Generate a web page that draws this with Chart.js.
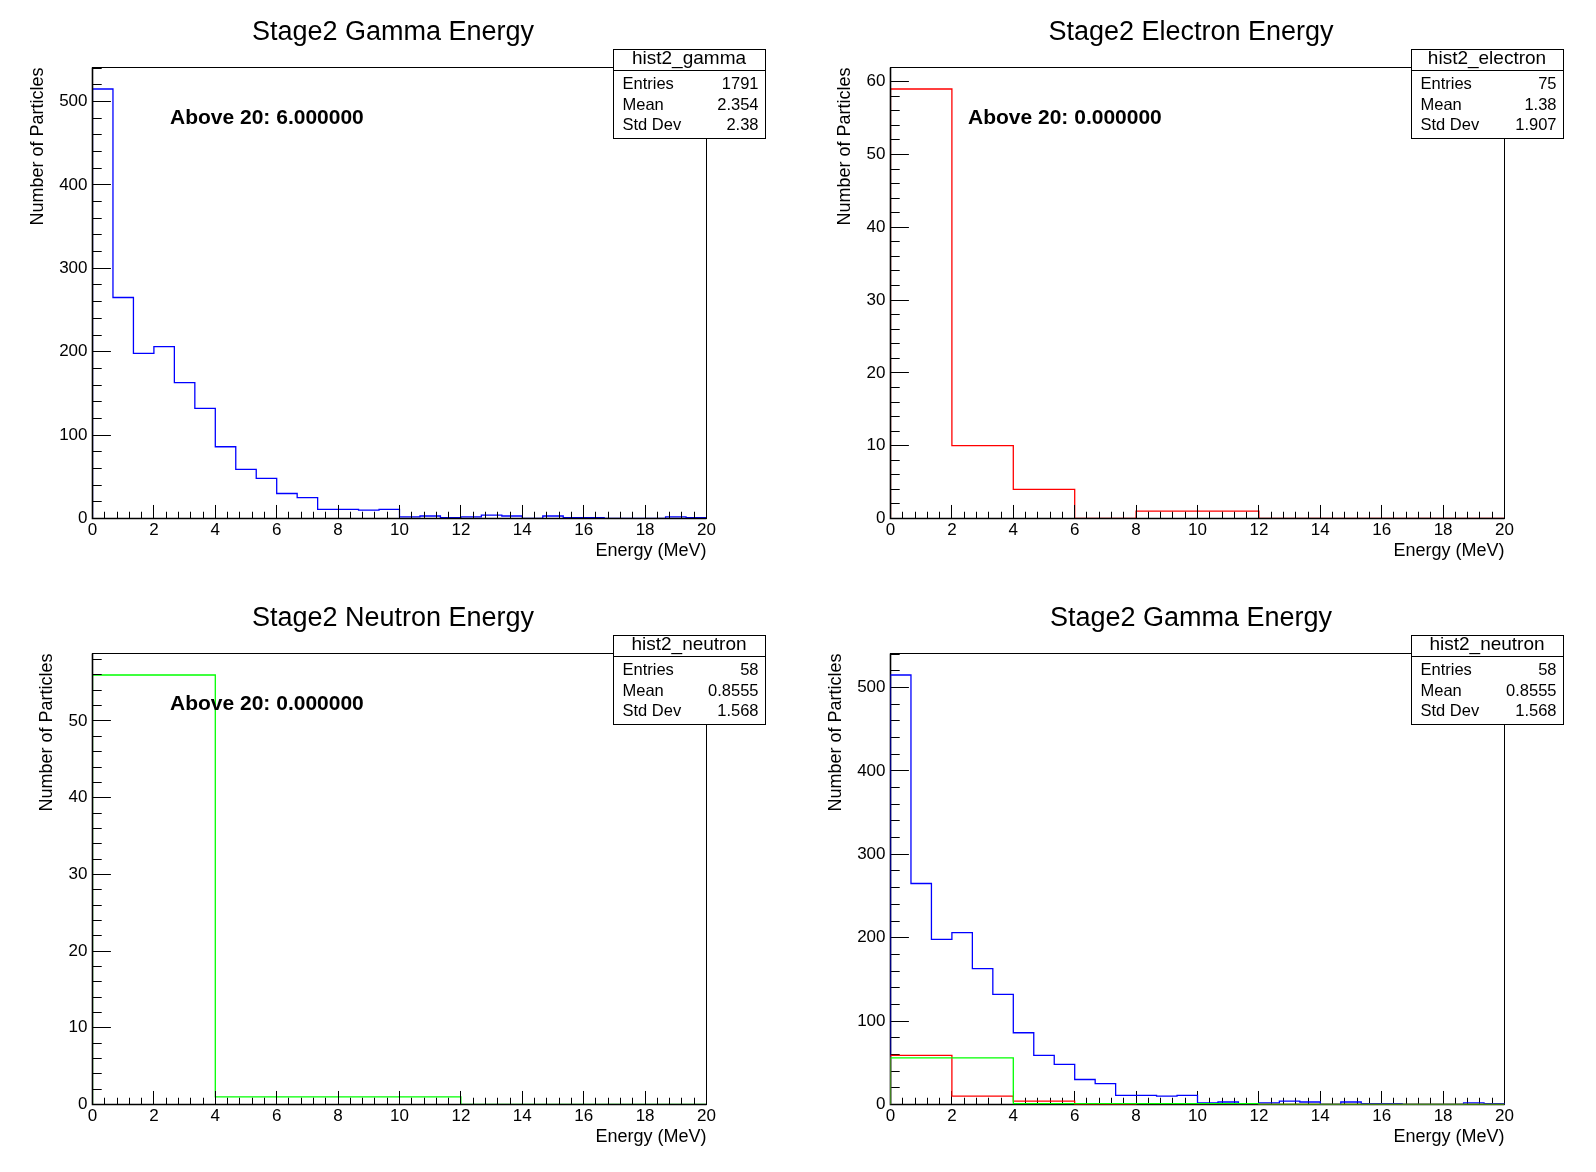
<!DOCTYPE html>
<html>
<head>
<meta charset="utf-8">
<title>Stage2 Energy</title>
<script src="https://cdn.jsdelivr.net/npm/chart.js@4.4.1/dist/chart.umd.min.js"></script>
<style>
    body { margin: 0; background: #ffffff; }
    #wrap { position: relative; width: 1596px; height: 1172px; background: #ffffff; }
    #wrap canvas { position: absolute; }
</style>
</head>
<body>
<div id="wrap">
    <canvas id="pad-1" width="798" height="586" style="left:0px;top:0px"></canvas>
    <canvas id="pad-2" width="798" height="586" style="left:798px;top:0px"></canvas>
    <canvas id="pad-3" width="798" height="586" style="left:0px;top:586px"></canvas>
    <canvas id="pad-4" width="798" height="586" style="left:798px;top:586px"></canvas>
</div>
<script>
// energy range of all histograms (MeV)
var xMin = 0;
var xMax = 20;
var xTicks = [0, 2, 4, 6, 8, 10, 12, 14, 16, 18, 20];

// bin contents
var gammaCounts = [515, 265, 198, 206, 163, 132, 86, 59, 48, 30, 25, 11, 11, 10, 11,
                   2, 3, 1, 2, 4, 3, 0, 3, 1, 1, 0, 0, 0, 2, 1];
var electronCounts = [59, 10, 4, 0, 1, 1, 0, 0, 0, 0];
var neutronCounts = [56, 1, 1, 0, 0];

var gammaYTicks = [0, 100, 200, 300, 400, 500];
var electronYTicks = [0, 10, 20, 30, 40, 50, 60];
var neutronYTicks = [0, 10, 20, 30, 40, 50];

// stat boxes
var statLabels = ['Entries', 'Mean', 'Std Dev'];
var gammaStats = ['1791', '2.354', '2.38'];
var electronStats = ['75', '1.38', '1.907'];
var neutronStats = ['58', '0.8555', '1.568'];

var gammaAbove = 'Above 20: 6.000000';
var electronAbove = 'Above 20: 0.000000';
var neutronAbove = 'Above 20: 0.000000';

var FONT = '"Liberation Sans", Arial, Helvetica, sans-serif';
var tickFont = { family: FONT, size: 17 };
var titleFont = { family: FONT, size: 18 };


// turn bin contents into the outline of a ROOT style histogram
function histPoints(counts) {
    var w = (xMax - xMin) / counts.length;
    var pts = [{ x: xMin, y: 0 }];
    counts.forEach(function (c, i) {
        pts.push({ x: xMin + i * w, y: c });
        pts.push({ x: xMin + (i + 1) * w, y: c });
    });
    pts.push({ x: xMax, y: 0 });
    return pts;
}

function histDataset(counts, color, order) {
    return {
        data: histPoints(counts),
        borderColor: color,
        borderWidth: 1.3,
        pointRadius: 0,
        tension: 0,
        fill: false,
        borderJoinStyle: 'miter',
        order: order
    };
}

function isMajor(v, step) {
    var r = v / step;
    return Math.abs(r - Math.round(r)) < 1e-6;
}

function drawFrame(chart, o) {
    var ctx = chart.ctx;
    var a = chart.chartArea;
    var xs = chart.scales.x;
    var ys = chart.scales.y;

    ctx.save();
    ctx.strokeStyle = '#000000';
    ctx.lineWidth = 1;
    ctx.strokeRect(a.left, a.top, a.right - a.left, a.bottom - a.top);
    // axes sit over the zero line of the histogram
    ctx.lineWidth = 1.6;
    ctx.beginPath();
    ctx.moveTo(a.left, a.top);
    ctx.lineTo(a.left, a.bottom);
    ctx.lineTo(a.right, a.bottom);
    ctx.stroke();

    ctx.lineWidth = 1;
    // x ticks, pointing into the frame
    var xMajor = xTicks[1] - xTicks[0];
    var xMinor = xMajor / 5;
    var xLen = (a.bottom - a.top) * 0.03;
    var n = Math.round((xs.max - xs.min) / xMinor);
    ctx.beginPath();
    for (var i = 0; i <= n; i++) {
        var v = xs.min + i * xMinor;
        var px = Math.floor(xs.getPixelForValue(v)) + 0.5;
        var len = isMajor(v, xMajor) ? xLen : xLen / 2;
        ctx.moveTo(px, a.bottom);
        ctx.lineTo(px, a.bottom - len);
    }
    // y ticks
    var yMajor = o.yTicks[1] - o.yTicks[0];
    var yMinor = yMajor / 5;
    var yLen = (a.right - a.left) * 0.03;
    for (var j = 0; ys.min + j * yMinor <= ys.max + 1e-9; j++) {
        var vy = ys.min + j * yMinor;
        var py = Math.floor(ys.getPixelForValue(vy)) + 0.5;
        var leny = isMajor(vy, yMajor) ? yLen : yLen / 2;
        ctx.moveTo(a.left, py);
        ctx.lineTo(a.left + leny, py);
    }
    ctx.stroke();
    ctx.restore();
}

// frame, inward ticks, title, stat box and note
var rootPad = {
    id: 'rootPad',
    beforeDatasetsDraw: function (chart) {
        var o = chart.options.plugins.rootPad;
        if (o.frameUnder) drawFrame(chart, o);
    },
    afterDatasetsDraw: function (chart) {
        var o = chart.options.plugins.rootPad;
        if (!o.frameUnder) drawFrame(chart, o);

        var ctx = chart.ctx;
        ctx.save();
        ctx.strokeStyle = '#000000';
        ctx.lineWidth = 1;

        // pad title
        ctx.fillStyle = '#000000';
        ctx.font = '27px ' + FONT;
        ctx.textAlign = 'center';
        ctx.textBaseline = 'alphabetic';
        ctx.fillText(o.title, 393, 39.5);

        // note text
        if (o.note) {
            ctx.font = 'bold 21px ' + FONT;
            ctx.textAlign = 'left';
            ctx.fillText(o.note, 170, 123.5);
        }

        // stat box
        var bx = 613, by = 49, bw = 152, bh = 89, hh = 21;
        ctx.fillStyle = '#ffffff';
        ctx.fillRect(bx, by, bw, bh);
        ctx.strokeRect(bx + 0.5, by + 0.5, bw, bh);
        ctx.beginPath();
        ctx.moveTo(bx, by + hh + 0.5);
        ctx.lineTo(bx + bw, by + hh + 0.5);
        ctx.stroke();
        ctx.fillStyle = '#000000';
        ctx.font = '19px ' + FONT;
        ctx.textAlign = 'center';
        ctx.fillText(o.statName, bx + bw / 2, 63.5);
        ctx.font = '16.5px ' + FONT;
        var rows = [89, 109.5, 130];
        statLabels.forEach(function (lab, k) {
            ctx.textAlign = 'left';
            ctx.fillText(lab, 622.5, rows[k]);
            ctx.textAlign = 'right';
            ctx.fillText(o.statValues[k], 758.5, rows[k]);
        });
        ctx.restore();
    }
};


function createPad(id, datasets, yTicks, yTop, yTitlePad, pad) {
    pad.yTicks = yTicks;
    var ctx = document.getElementById(id).getContext('2d');
    return new Chart(ctx, {
        type: 'line',
        data: { datasets: datasets },
        options: {
            responsive: false,
            animation: false,
            devicePixelRatio: 1,
            layout: { padding: { left: 0, right: 91.5, top: 67.5, bottom: 0 } },
            plugins: {
                legend: { display: false },
                tooltip: { enabled: false },
                rootPad: pad
            },
            scales: {
                x: {
                    type: 'linear',
                    min: xMin,
                    max: xMax,
                    grid: { display: false, drawTicks: false },
                    border: { display: false },
                    ticks: { padding: 2, color: '#000000', font: tickFont, maxRotation: 0, autoSkip: false },
                    afterBuildTicks: function (s) {
                        s.ticks = xTicks.map(function (v) { return { value: v }; });
                    },
                    afterFit: function (s) { s.height = 67.5; },
                    title: {
                        display: true,
                        text: 'Energy (MeV)',
                        align: 'end',
                        color: '#000000',
                        font: titleFont,
                        padding: { top: 0, bottom: 24.4 }
                    }
                },
                y: {
                    type: 'linear',
                    min: 0,
                    max: yTop,
                    grid: { display: false, drawTicks: false },
                    border: { display: false },
                    ticks: { padding: 5, color: '#000000', font: tickFont, autoSkip: false, includeBounds: false },
                    afterBuildTicks: function (s) {
                        s.ticks = yTicks.map(function (v) { return { value: v }; });
                    },
                    afterFit: function (s) { s.width = 92.5; },
                    title: {
                        display: true,
                        text: 'Number of Particles',
                        align: 'end',
                        color: '#000000',
                        font: titleFont,
                        padding: { top: yTitlePad, bottom: 0 }
                    }
                }
            }
        },
        plugins: [rootPad]
    });
}

// ROOT leaves 5% head room above the highest bin
var gammaTop = Math.max.apply(null, gammaCounts) * 1.05;
var electronTop = Math.max.apply(null, electronCounts) * 1.05;
var neutronTop = Math.max.apply(null, neutronCounts) * 1.05;

createPad('pad-1', [histDataset(gammaCounts, '#0000ff', 1)], gammaYTicks, gammaTop, 27, {
    title: 'Stage2 Gamma Energy', note: gammaAbove, statName: 'hist2_gamma', statValues: gammaStats
});

createPad('pad-2', [histDataset(electronCounts, '#ff0000', 1)], electronYTicks, electronTop, 36.2, {
    title: 'Stage2 Electron Energy', note: electronAbove, statName: 'hist2_electron', statValues: electronStats
});

createPad('pad-3', [histDataset(neutronCounts, '#00ff00', 1)], neutronYTicks, neutronTop, 36.2, {
    title: 'Stage2 Neutron Energy', note: neutronAbove, statName: 'hist2_neutron', statValues: neutronStats
});

// overlay: drawn with "same", so the histograms lie over the axes
createPad('pad-4', [
    histDataset(gammaCounts, '#0000ff', 3),
    histDataset(electronCounts, '#ff0000', 2),
    histDataset(neutronCounts, '#00ff00', 1)
], gammaYTicks, gammaTop, 27, {
    title: 'Stage2 Gamma Energy', note: null, statName: 'hist2_neutron', statValues: neutronStats,
    frameUnder: true
});
</script>
</body>
</html>
